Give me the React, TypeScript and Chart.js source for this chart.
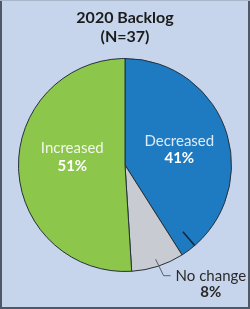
import { useEffect, useRef } from "react";
import { Chart, registerables } from "chart.js";

Chart.register(...registerables);

const categories = ["Decreased", "No change", "Increased"];
const percents = [41, 8, 51];
const titleLines = ["2020 Backlog", "(N=37)"];
const sliceColors = ["#1f7bc1", "#c8cbd1", "#8cc64b"];

const FONT = "Lato, 'Open Sans', sans-serif";

export default function App() {
  const ref = useRef<HTMLCanvasElement>(null);

  useEffect(() => {
    document.body.style.margin = "0";
    const canvas = ref.current;
    if (!canvas) return;

    const deco = {
      id: "deco",
      beforeDraw(chart: any) {
        const { ctx, width, height } = chart;
        ctx.save();
        ctx.fillStyle = "#c7d5ec";
        ctx.fillRect(0, 0, width, height);
        ctx.fillStyle = "#4f5866";
        ctx.fillRect(0, 0, 2, height);
        ctx.fillRect(width - 2, 0, 2, height);
        ctx.fillRect(0, height - 2, width, 2);
        ctx.fillStyle = "#a9b6ca";
        ctx.fillRect(0, 0, width, 1);
        ctx.restore();
      },
      afterDraw(chart: any) {
        const { ctx } = chart;
        const meta = chart.getDatasetMeta(0);
        const arcs = meta.data as any[];
        const cx = arcs[0].x;
        const cy = arcs[0].y;
        const R = arcs[0].outerRadius;
        ctx.save();
        ctx.textAlign = "center";
        ctx.textBaseline = "middle";

        // Title
        ctx.fillStyle = "#1b1b1b";
        ctx.font = `bold 16px ${FONT}`;
        ctx.fillText(titleLines[0], chart.width / 2, 18);
        ctx.fillText(titleLines[1], chart.width / 2, 37);

        // Decreased label
        const dec = { x: cx + R * 0.51, y: cy - R * 0.14 };
        ctx.fillStyle = "#dceaf8";
        ctx.font = `15px ${FONT}`;
        ctx.fillText(categories[0], dec.x, dec.y - 8.5);
        ctx.fillStyle = "#ffffff";
        ctx.font = `bold 15px ${FONT}`;
        ctx.fillText(percents[0] + "%", dec.x, dec.y + 8.5);

        // Increased label
        const inc = { x: cx - R * 0.495, y: cy - R * 0.075 };
        ctx.fillStyle = "#f2f8ea";
        ctx.font = `15px ${FONT}`;
        ctx.fillText(categories[2], inc.x, inc.y - 9);
        ctx.fillStyle = "#ffffff";
        ctx.font = `bold 15px ${FONT}`;
        ctx.fillText(percents[2] + "%", inc.x, inc.y + 9);

        // Small radial tick inside the blue slice
        const gray = arcs[1];
        const tickA = gray.startAngle - (8.5 * Math.PI) / 180;
        ctx.strokeStyle = "#13253b";
        ctx.lineWidth = 1.5;
        ctx.beginPath();
        ctx.moveTo(cx + R * 0.83 * Math.cos(tickA), cy + R * 0.83 * Math.sin(tickA));
        ctx.lineTo(cx + R * Math.cos(tickA), cy + R * Math.sin(tickA));
        ctx.stroke();

        // Leader line for No change
        const midA = (gray.startAngle + gray.endAngle) / 2;
        const sx = cx + R * 0.93 * Math.cos(midA);
        const sy = cy + R * 0.93 * Math.sin(midA);
        const ex = sx + 8;
        const ey = sy + 16.5;
        ctx.strokeStyle = "#5a5f66";
        ctx.lineWidth = 1;
        ctx.beginPath();
        ctx.moveTo(sx, sy);
        ctx.lineTo(ex, ey);
        ctx.lineTo(ex + 7, ey);
        ctx.stroke();

        ctx.fillStyle = "#2a2a2a";
        ctx.font = `15px ${FONT}`;
        ctx.textAlign = "left";
        const tx = ex + 12;
        ctx.fillText(categories[1], tx, ey);
        const w = ctx.measureText(categories[1]).width;
        ctx.textAlign = "center";
        ctx.font = `bold 15px ${FONT}`;
        ctx.fillText(percents[1] + "%", tx + w / 2, ey + 16);

        ctx.restore();
      },
    };

    const chart = new Chart(canvas, {
      type: "pie",
      data: {
        labels: categories,
        datasets: [
          {
            data: percents,
            backgroundColor: sliceColors,
            borderColor: "#26313a",
            borderWidth: 1,
          },
        ],
      },
      options: {
        responsive: false,
        animation: false,
        layout: { padding: { left: 18, right: 18, top: 58, bottom: 37 } },
        plugins: {
          legend: { display: false },
          tooltip: { enabled: false },
          title: { display: false },
        },
      },
      plugins: [deco],
    });

    return () => chart.destroy();
  }, []);

  return (
    <div style={{ position: "absolute", left: 0, top: 0, width: 250, height: 309 }}>
      <canvas ref={ref} width={250} height={309} style={{ display: "block" }} />
    </div>
  );
}
